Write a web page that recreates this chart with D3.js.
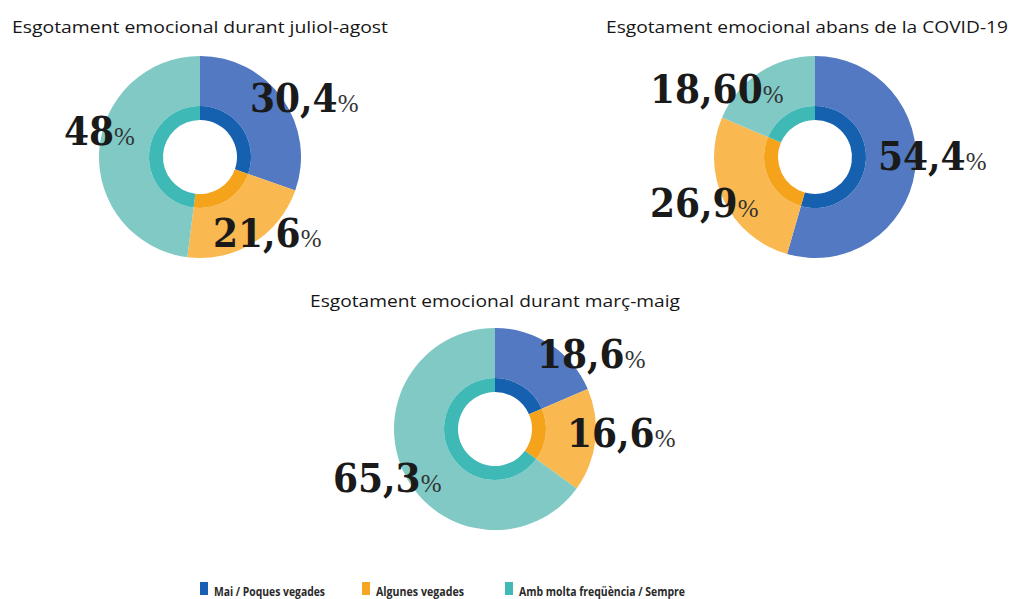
<!DOCTYPE html>
<html lang="ca">
<head>
  <meta charset="UTF-8">
  <title>Esgotament emocional</title>
  <script src="https://d3js.org/d3.v7.min.js"></script>
  <style>
    body { margin: 0; background: #fff; }
    svg { display: block; }
    .title { font-family: "Open Sans", sans-serif; font-size: 15.5px; font-weight: 500; fill: #161616; }
    .num { font-family: "DejaVu Serif Condensed", "DejaVu Serif", serif; font-weight: bold; font-size: 40px; fill: #1a1a1a; }
    .pct { font-family: "Liberation Serif", serif; font-weight: normal; font-size: 25px; fill: #333; }
    .legend text { font-family: "Open Sans", sans-serif; font-size: 11.5px; font-weight: 700; fill: #2a2a2a; }
  </style>
</head>
<body>
<svg width="1017" height="599"></svg>
<script>
// data
const categories = ["Mai / Poques vegades", "Algunes vegades", "Amb molta freqüència / Sempre"];
const titles = [
  "Esgotament emocional durant juliol-agost",
  "Esgotament emocional abans de la COVID-19",
  "Esgotament emocional durant març-maig"
];
const valuesJulAgo = [30.4, 21.6, 48];
const valuesPreCovid = [54.4, 26.9, 18.6];
const valuesMarMai = [18.6, 16.6, 65.3];
const labelsJulAgo = ["30,4", "21,6", "48"];
const labelsPreCovid = ["54,4", "26,9", "18,60"];
const labelsMarMai = ["18,6", "16,6", "65,3"];

// layout
const outerColors = ["#5279c2", "#f9b950", "#80c9c5"];
const innerColors = ["#1660b0", "#f4a31b", "#3eb9b6"];
const legendColors = ["#1a5fb4", "#f6a623", "#40b9b7"];

const charts = [
  { values: valuesJulAgo, labels: labelsJulAgo, title: titles[0], cx: 200, cy: 157,
    titleX: 12, titleY: 33, titleW: 376,
    offsets: [[50, -45], [13, 90], [-136, -12]] },
  { values: valuesPreCovid, labels: labelsPreCovid, title: titles[1], cx: 815, cy: 157,
    titleX: 606, titleY: 33, titleW: 402,
    offsets: [[63, 13], [-165, 60], [-165, -54]] },
  { values: valuesMarMai, labels: labelsMarMai, title: titles[2], cx: 495, cy: 429,
    titleX: 310, titleY: 307, titleW: 370,
    offsets: [[42, -61], [72, 18], [-162, 63]] }
];

const rHole = 37, rRing = 51, rOuter = 101;

const svg = d3.select("svg");
const pie = d3.pie().sort(null).value(d => d);
const outerArc = d3.arc().innerRadius(rRing).outerRadius(rOuter);
const innerArc = d3.arc().innerRadius(rHole).outerRadius(rRing);

charts.forEach(c => {
  svg.append("text")
    .attr("class", "title")
    .attr("x", c.titleX)
    .attr("y", c.titleY)
    .attr("textLength", c.titleW)
    .attr("lengthAdjust", "spacingAndGlyphs")
    .text(c.title);

  const g = svg.append("g").attr("transform", `translate(${c.cx},${c.cy})`);
  const arcs = pie(c.values);

  g.selectAll("path.outer").data(arcs).join("path")
    .attr("class", "outer")
    .attr("d", outerArc)
    .attr("fill", (d, i) => outerColors[i]);

  g.selectAll("path.inner").data(arcs).join("path")
    .attr("class", "inner")
    .attr("d", innerArc)
    .attr("fill", (d, i) => innerColors[i]);

  c.labels.forEach((lab, i) => {
    const t = g.append("text")
      .attr("x", c.offsets[i][0])
      .attr("y", c.offsets[i][1]);
    t.append("tspan").attr("class", "num").text(lab);
    t.append("tspan").attr("class", "pct").text("%");
  });
});

// legend
const legendX = [200, 362, 505];
const legendW = [111, 88, 166];
const legend = svg.append("g").attr("class", "legend");
categories.forEach((name, i) => {
  legend.append("rect")
    .attr("x", legendX[i]).attr("y", 582)
    .attr("width", 8).attr("height", 13)
    .attr("fill", legendColors[i]);
  legend.append("text")
    .attr("x", legendX[i] + 14).attr("y", 596)
    .attr("textLength", legendW[i])
    .attr("lengthAdjust", "spacingAndGlyphs")
    .text(name);
});
</script>
</body>
</html>
